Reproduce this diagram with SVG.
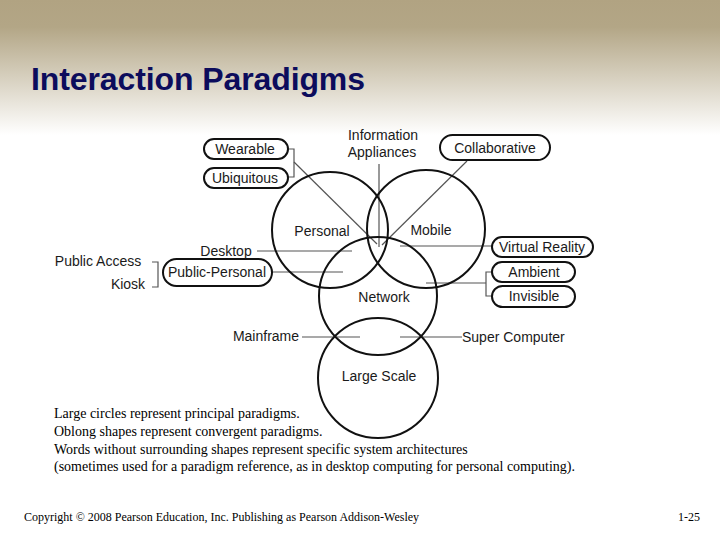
<svg xmlns="http://www.w3.org/2000/svg" width="720" height="540" viewBox="0 0 720 540">
<defs>
<linearGradient id="bg" x1="0" y1="0" x2="0" y2="1">
<stop offset="0" stop-color="#b1a382"/>
<stop offset="0.05" stop-color="#b3a686"/>
<stop offset="0.25" stop-color="#ffffff"/>
<stop offset="1" stop-color="#ffffff"/>
</linearGradient>
<style>
.c{fill:none;stroke:#111;stroke-width:2}
.p{fill:#fff;stroke:#111;stroke-width:2}
.l{fill:none;stroke:#555;stroke-width:1.2}
.t{font-family:"Liberation Sans",Arial,sans-serif;font-size:14px;fill:#1a1a1a}
.m{text-anchor:middle;dominant-baseline:central}
.cap{font-family:"Liberation Serif","Times New Roman",serif;font-size:14px;fill:#000}
.foot{font-family:"Liberation Serif","Times New Roman",serif;font-size:12px;fill:#000}
</style>
</defs>
<rect width="720" height="540" fill="url(#bg)"/>
<text x="31" y="90" font-family="Liberation Sans,Arial,sans-serif" font-size="32" font-weight="bold" fill="#0c0c5c" textLength="334">Interaction Paradigms</text>
<g id="connectors">
<polyline class="l" points="288,149 294,149 294,177 288,177"/>
<line class="l" x1="294" y1="162" x2="377" y2="244"/>
<line class="l" x1="379" y1="164" x2="379" y2="247"/>
<line class="l" x1="467" y1="161" x2="382" y2="245"/>
<line class="l" x1="400" y1="246" x2="492" y2="246"/>
<polyline class="l" points="492,272 486,272 486,296 492,296"/>
<line class="l" x1="426" y1="283" x2="486" y2="283"/>
<line class="l" x1="400" y1="337" x2="462" y2="337"/>
<line class="l" x1="302" y1="337" x2="360" y2="337"/>
<line class="l" x1="257" y1="251" x2="352" y2="251" stroke-width="2"/>
<line class="l" x1="272" y1="272" x2="343" y2="272" stroke="#111"/>
<polyline class="l" points="152,262 158,262 158,287 152,287"/>
</g>
<g id="personal"><circle class="c" cx="330" cy="230" r="58"/><text class="t m" x="322" y="231">Personal</text></g>
<g id="mobile"><circle class="c" cx="426" cy="229" r="59"/><text class="t m" x="431" y="230">Mobile</text></g>
<g id="network"><circle class="c" cx="378" cy="296" r="59"/><text class="t m" x="384" y="297">Network</text></g>
<g id="largescale"><circle class="c" cx="378" cy="378" r="60"/><text class="t m" x="379" y="376">Large Scale</text></g>
<g id="infoapp"><text class="t m" x="383" y="135">Information</text><text class="t m" x="382" y="152">Appliances</text></g>
<g id="wearable"><rect class="p" x="204" y="139" width="84" height="20" rx="10"/><text class="t m" x="245" y="149">Wearable</text></g>
<g id="ubiquitous"><rect class="p" x="204" y="168" width="84" height="20" rx="10"/><text class="t m" x="245" y="178">Ubiquitous</text></g>
<g id="collaborative"><rect class="p" x="440" y="135" width="110" height="25" rx="12.5"/><text class="t m" x="495" y="148">Collaborative</text></g>
<g id="virtualreality"><rect class="p" x="492" y="237" width="101" height="20" rx="10"/><text class="t m" x="542" y="247">Virtual Reality</text></g>
<g id="ambient"><rect class="p" x="492" y="262" width="83" height="20" rx="10"/><text class="t m" x="534" y="272">Ambient</text></g>
<g id="invisible"><rect class="p" x="492" y="286" width="83" height="21" rx="10.5"/><text class="t m" x="534" y="296">Invisible</text></g>
<g id="publicpersonal"><rect class="p" x="163" y="259" width="109" height="27" rx="13.5"/><text class="t m" x="217" y="272">Public-Personal</text></g>
<g id="desktop"><text class="t m" x="226" y="251">Desktop</text></g>
<g id="publicaccess"><text class="t m" x="98" y="261">Public Access</text></g>
<g id="kiosk"><text class="t m" x="128" y="284">Kiosk</text></g>
<g id="mainframe"><text class="t m" x="266" y="336">Mainframe</text></g>
<g id="supercomputer"><text class="t" x="462" y="342">Super Computer</text></g>
<text class="cap" x="54" y="418">Large circles represent principal paradigms.</text>
<text class="cap" x="54" y="436">Oblong shapes represent convergent paradigms.</text>
<text class="cap" x="54" y="454">Words without surrounding shapes represent specific system architectures</text>
<text class="cap" x="54" y="471">(sometimes used for a paradigm reference, as in desktop computing for personal computing).</text>
<text class="foot" x="24" y="521">Copyright © 2008 Pearson Education, Inc. Publishing as Pearson Addison-Wesley</text>
<text class="foot" x="678" y="521">1-25</text>
</svg>
